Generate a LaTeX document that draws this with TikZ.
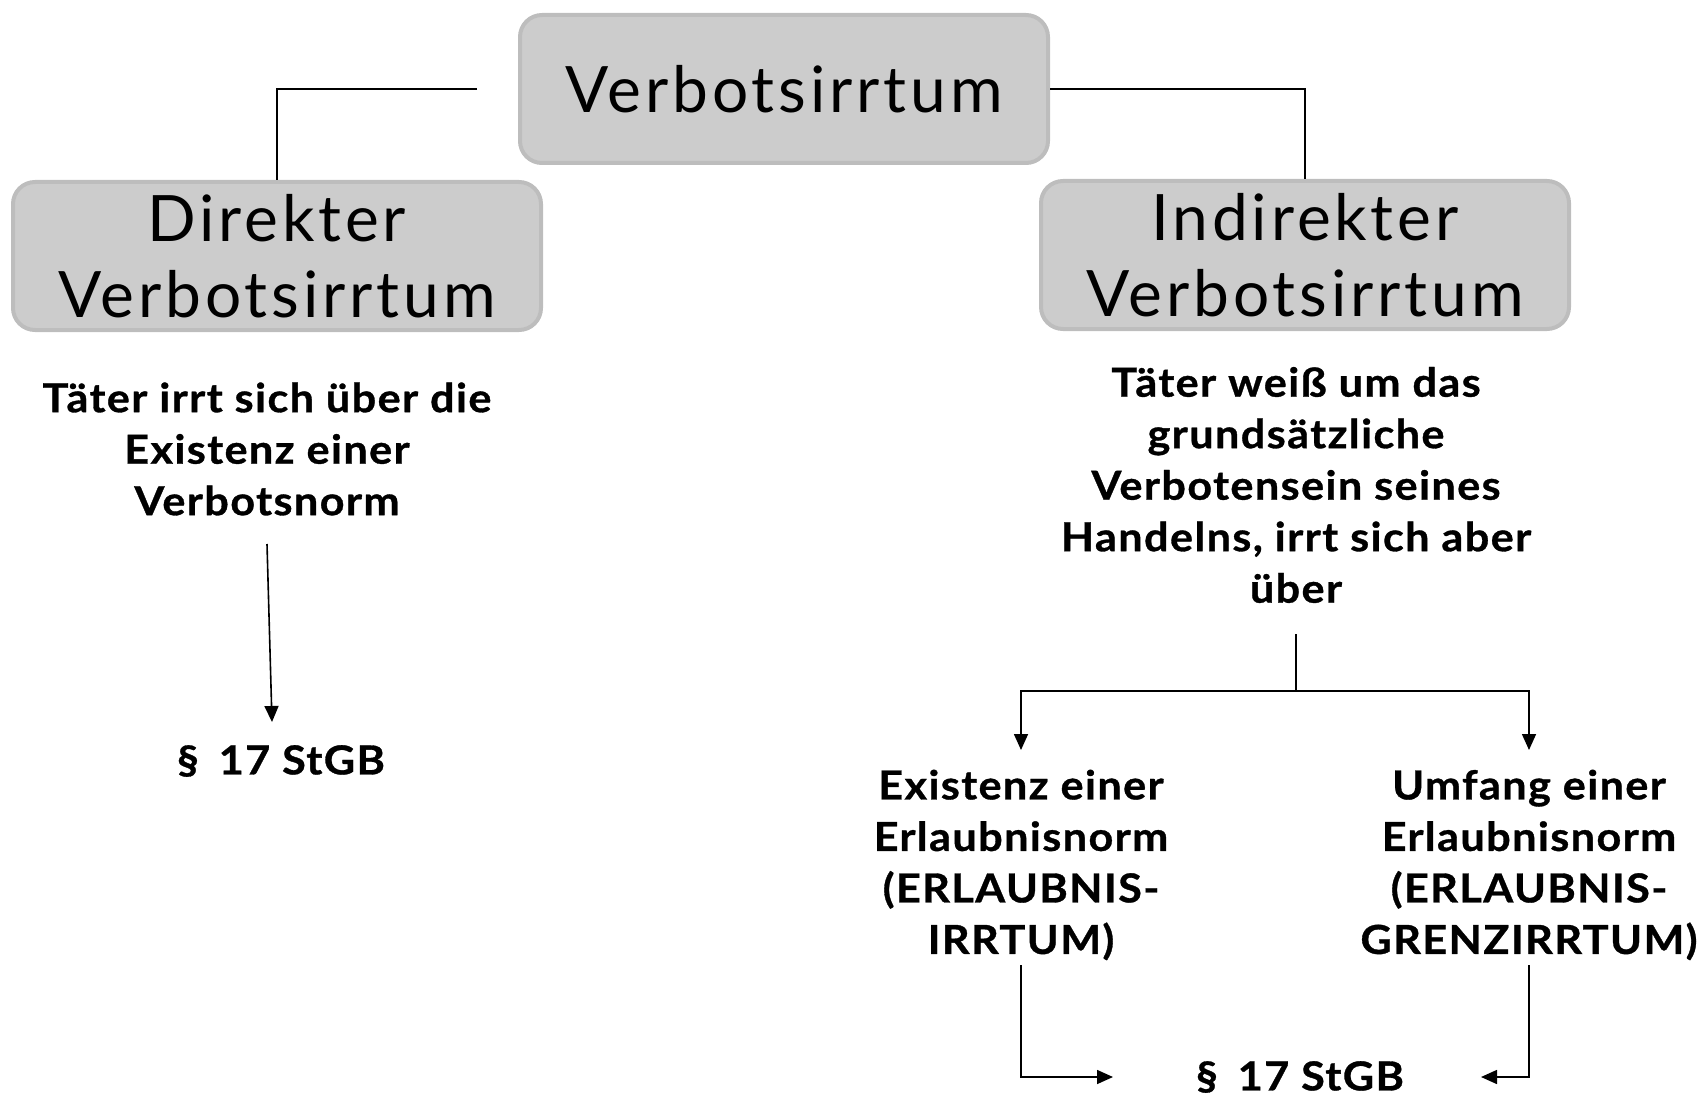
\documentclass[tikz,border=0pt]{standalone}
\usepackage{fontspec}
\setmainfont{Lato}
\newfontfamily\titlefont[LetterSpace=6]{Lato}
\newfontfamily\notefont[FakeStretch=1.08,LetterSpace=3.5,FakeBold=0.8]{Lato}
\usetikzlibrary{arrows.meta}
\definecolor{boxfill}{HTML}{CCCCCC}
\definecolor{boxedge}{HTML}{BDBDBD}
\begin{document}
\begin{tikzpicture}[x=1pt,y=-1pt,
  box/.style={draw=boxedge, fill=boxfill, line width=4pt, rounded corners=22pt,
    minimum width=528pt, minimum height=148pt, align=center, inner sep=0pt,
    font=\titlefont\fontsize{64}{76}\selectfont},
  note/.style={align=center, inner sep=0pt, font=\notefont\bfseries\fontsize{40}{51.5}\selectfont},
  conn/.style={line width=1.6pt, black},
  arr/.style={conn, -{Triangle[length=16pt,width=14pt]}}]
\useasboundingbox (0,0) rectangle (1700,1094);
% boxes
\node[box] (top) at (784,89) {Verbotsirrtum};
\node[box] (dir) at (277,256) {Direkter\\Verbotsirrtum};
\node[box] (ind) at (1305,255) {Indirekter\\Verbotsirrtum};
% texts
\node[note] (dtext) at (267,449) {Täter irrt sich über die\\Existenz einer\\Verbotsnorm};
\node[note] (dpar) at (281,761) {§\hspace{0.5em}17 StGB};
\node[note] (itext) at (1296,485) {Täter weiß um das\\grundsätzliche\\Verbotensein seines\\Handelns, irrt sich aber\\über};
\node[note] (ex) at (1021,865) {Existenz einer\\Erlaubnisnorm\\(ERLAUBNIS-\\IRRTUM)};
\node[note] (um) at (1529,865) {Umfang einer\\Erlaubnisnorm\\(ERLAUBNIS-\\GRENZIRRTUM)};
\node[note] (ipar) at (1300,1077) {§\hspace{0.5em}17 StGB};
% coordinates
\coordinate (tl) at (477,89);
\coordinate (d1) at (267,544);
\coordinate (d2) at (272,722);
\coordinate (b0) at (1296,634);
\coordinate (br) at (1296,691);
\coordinate (exin) at (1021,750);
\coordinate (umin) at (1529,750);
\coordinate (exout) at (1021,965);
\coordinate (umout) at (1529,965);
\coordinate (pl) at (1113,1077);
\coordinate (pr) at (1481,1077);
% connectors
\draw[conn] (tl) -| (dir.north);
\draw[conn] (top.east) -| (ind.north);
\draw[arr] (d1) -- (d2);
\draw[conn] (b0) -- (br);
\draw[arr] (br) -| (exin);
\draw[arr] (br) -| (umin);
\draw[arr] (exout) |- (pl);
\draw[arr] (umout) |- (pr);
\end{tikzpicture}
\end{document}
